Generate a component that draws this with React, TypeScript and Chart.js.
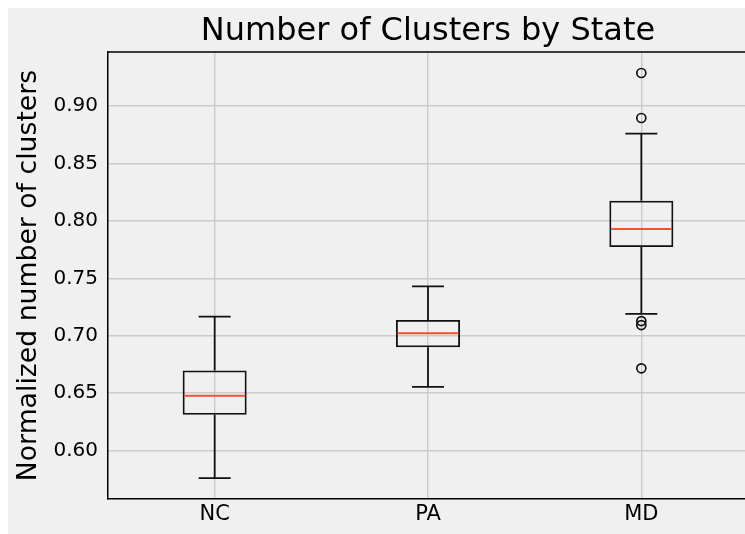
import React, { useEffect, useRef } from 'react';
import { Chart, registerables } from 'chart.js';

Chart.register(...registerables);

const categories = ['NC', 'PA', 'MD'];
const whiskerLow = [0.576, 0.6555, 0.719];
const q1 = [0.6312, 0.69, 0.7773];
const medians = [0.6478, 0.7021, 0.7929];
const q3 = [0.6698, 0.7137, 0.8176];
const whiskerHigh = [0.7166, 0.743, 0.876];
const outlierCategory = ['MD', 'MD', 'MD', 'MD', 'MD'];
const outlierValues = [0.9288, 0.8896, 0.7128, 0.7093, 0.6716];
const yTicks = [0.6, 0.65, 0.7, 0.75, 0.8, 0.85, 0.9];
const yMin = 0.5578;
const yMax = 0.9471;

const FONT = "'DejaVu Sans', sans-serif";
const CW = 760;
const CH = 540;

const boxExtras = {
  id: 'boxExtras',
  afterDatasetsDraw(chart: any) {
    const { ctx, scales, chartArea } = chart;
    const x = scales.x;
    const y = scales.y;
    const meta = chart.getDatasetMeta(0);
    ctx.save();
    ctx.lineCap = 'butt';
    categories.forEach((_c, i) => {
      const bar: any = meta.data[i];
      const cx = x.getPixelForValue(i);
      const half = bar.width / 2;
      const capHalf = half / 2;
      ctx.strokeStyle = '#111';
      ctx.lineWidth = 1.8;
      ctx.beginPath();
      ctx.moveTo(cx, y.getPixelForValue(q1[i]));
      ctx.lineTo(cx, y.getPixelForValue(whiskerLow[i]));
      ctx.moveTo(cx, y.getPixelForValue(q3[i]));
      ctx.lineTo(cx, y.getPixelForValue(whiskerHigh[i]));
      const yl = y.getPixelForValue(whiskerLow[i]);
      const yh = y.getPixelForValue(whiskerHigh[i]);
      ctx.moveTo(cx - capHalf, yl);
      ctx.lineTo(cx + capHalf, yl);
      ctx.moveTo(cx - capHalf, yh);
      ctx.lineTo(cx + capHalf, yh);
      ctx.stroke();
      const ym = y.getPixelForValue(medians[i]);
      ctx.strokeStyle = '#fc4f30';
      ctx.lineWidth = 2;
      ctx.beginPath();
      ctx.moveTo(cx - half + 1.5, ym);
      ctx.lineTo(cx + half - 1.5, ym);
      ctx.stroke();
    });
    ctx.strokeStyle = '#000';
    ctx.lineWidth = 1.5;
    ctx.beginPath();
    ctx.moveTo(chartArea.left, chartArea.top);
    ctx.lineTo(chartArea.right, chartArea.top);
    ctx.lineTo(chartArea.right, chartArea.bottom);
    ctx.stroke();
    ctx.restore();
  },
};

export default function App() {
  const canvasRef = useRef<HTMLCanvasElement | null>(null);

  useEffect(() => {
    document.documentElement.style.overflow = 'hidden';
    const canvas = canvasRef.current;
    if (!canvas) return;
    const chart = new Chart(canvas, {
      type: 'bar',
      data: {
        labels: categories,
        datasets: [
          {
            type: 'bar',
            data: categories.map((_c, i) => [q1[i], q3[i]]) as any,
            backgroundColor: 'rgba(0,0,0,0)',
            borderColor: '#111',
            borderWidth: 1.8,
            borderSkipped: false,
            categoryPercentage: 1,
            barPercentage: 0.3,
            order: 2,
          } as any,
          {
            type: 'line',
            data: outlierValues.map((v, i) => ({ x: outlierCategory[i], y: v })) as any,
            showLine: false,
            pointStyle: 'circle',
            pointRadius: 4.5,
            pointBorderWidth: 1.7,
            pointBorderColor: '#111',
            pointBackgroundColor: 'rgba(0,0,0,0)',
            order: 1,
          } as any,
        ],
      },
      options: {
        animation: false,
        responsive: false,
        maintainAspectRatio: false,
        devicePixelRatio: 1,
        layout: { padding: { left: 0, right: 20, top: 0, bottom: 0 } },
        plugins: {
          legend: { display: false },
          tooltip: { enabled: false },
          title: {
            display: true,
            text: 'Number of Clusters by State',
            color: '#000',
            font: { family: FONT, size: 32, weight: 'normal' },
            padding: { top: 4, bottom: 1.6 },
            fullSize: false,
          } as any,
        },
        scales: {
          x: {
            type: 'category',
            offset: true,
            grid: { display: true, offset: false, color: '#cbcbcb', lineWidth: 1.4, drawTicks: false },
            border: { display: true, color: '#000', width: 1.5 },
            ticks: { color: '#000', font: { family: FONT, size: 21 }, padding: 3 },
            afterFit: (scale: any) => {
              scale.height = 49;
            },
          },
          y: {
            type: 'linear',
            min: yMin,
            max: yMax,
            grid: { color: '#cbcbcb', lineWidth: 1.4, drawTicks: false },
            border: { display: true, color: '#000', width: 1.5 },
            ticks: {
              color: '#000',
              font: { family: FONT, size: 20 },
              padding: 10,
              callback: (v: any) => Number(v).toFixed(2),
            },
            afterBuildTicks: (scale: any) => {
              scale.ticks = yTicks.map((v) => ({ value: v }));
            },
            afterFit: (scale: any) => {
              scale.width = 100;
            },
            title: {
              display: true,
              text: 'Normalized number of clusters',
              color: '#000',
              font: { family: FONT, size: 26.7 },
              padding: { top: 5, bottom: 0 },
            },
          },
        },
      } as any,
      plugins: [boxExtras],
    });
    return () => chart.destroy();
  }, []);

  return (
    <div
      style={{
        position: 'fixed',
        left: 8,
        top: 8,
        width: 737,
        height: 526,
        overflow: 'hidden',
        background: '#f0f0f0',
      }}
    >
      <canvas
        ref={canvasRef}
        width={CW}
        height={CH}
        style={{ display: 'block', width: CW, height: CH, background: '#f0f0f0' }}
      />
    </div>
  );
}
